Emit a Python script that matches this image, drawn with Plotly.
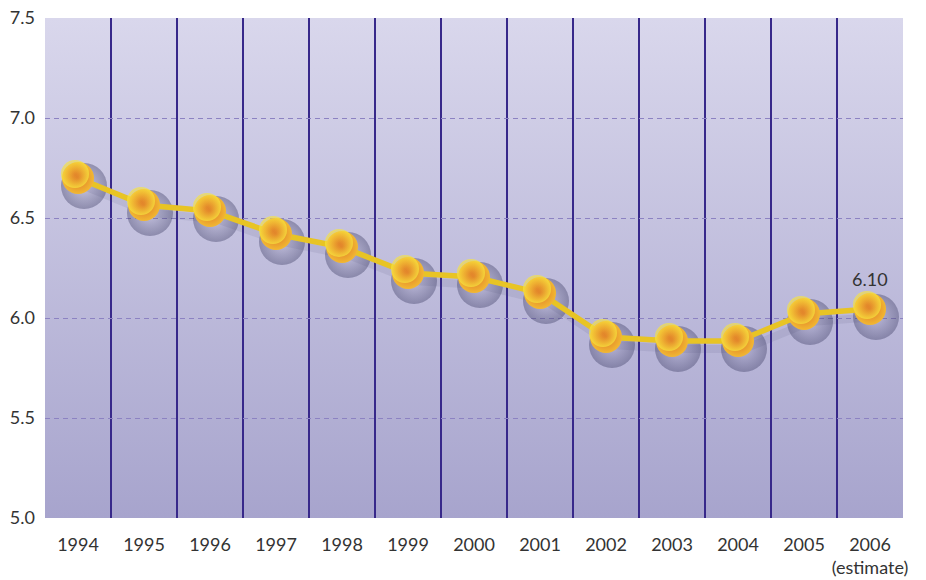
import base64
import plotly.graph_objects as go

years = ["1994", "1995", "1996", "1997", "1998", "1999", "2000",
         "2001", "2002", "2003", "2004", "2005", "2006"]
tick_labels = ["1994", "1995", "1996", "1997", "1998", "1999", "2000",
               "2001", "2002", "2003", "2004", "2005", "2006<br>(estimate)"]
values = [6.70, 6.565, 6.535, 6.42, 6.355, 6.225, 6.205,
          6.125, 5.905, 5.885, 5.885, 6.02, 6.045]
last_label = "6.10"
y_ticks = [5.0, 5.5, 6.0, 6.5, 7.0, 7.5]
y_grid = [5.5, 6.0, 6.5, 7.0]

idx = list(range(len(years)))
x_range = [-0.5, len(years) - 0.5]
y_range = [5.0, 7.5]

W, H = 926, 580
ML, MR, MT, MB = 45, 23, 18, 62
px_x = (x_range[1] - x_range[0]) / (W - ML - MR)
px_y = (y_range[1] - y_range[0]) / (H - MT - MB)

FONT = "Lato, 'Open Sans', sans-serif"

svg = ('<svg xmlns="http://www.w3.org/2000/svg" width="100" height="100" '
       'preserveAspectRatio="none"><defs><linearGradient id="g" x1="0" y1="0" '
       'x2="0" y2="1"><stop offset="0" stop-color="#d9d7ec"/>'
       '<stop offset="1" stop-color="#a7a4cd"/></linearGradient></defs>'
       '<rect width="100" height="100" fill="url(#g)"/></svg>')
bg_uri = "data:image/svg+xml;base64," + base64.b64encode(svg.encode()).decode()

fig = go.Figure()

# invisible base trace to anchor the primary axes
fig.add_trace(go.Scatter(x=idx, y=values, mode="none", hoverinfo="skip",
                         showlegend=False))

# soft shadow (offset axes)
fig.add_trace(go.Scatter(
    x=idx, y=values, mode="lines+markers", xaxis="x2", yaxis="y2",
    line=dict(color="rgba(70,70,110,0.10)", width=8),
    marker=dict(size=46, color="rgba(50,50,90,0.38)",
                gradient=dict(type="radial", color="rgba(50,50,90,0)"),
                line=dict(width=0)),
    hoverinfo="skip", showlegend=False))

# main line and spheres
fig.add_trace(go.Scatter(
    x=idx, y=values, mode="lines+markers", xaxis="x3", yaxis="y3",
    line=dict(color="#e8c424", width=5.5),
    marker=dict(size=32, color="#f2b832",
                gradient=dict(type="radial", color="#dd7428"),
                line=dict(width=0)),
    showlegend=False))

# soft highlight (offset axes)
fig.add_trace(go.Scatter(
    x=idx, y=values, mode="markers", xaxis="x4", yaxis="y4",
    marker=dict(size=28, color="rgba(247,230,62,0.7)",
                gradient=dict(type="radial", color="rgba(242,184,50,0)"),
                line=dict(width=0)),
    hoverinfo="skip", showlegend=False))

fig.add_annotation(x=idx[-1], y=values[-1], text=last_label, showarrow=False,
                   xref="x3", yref="y3",
                   yshift=30, font=dict(family=FONT, size=18, color="#333333"))

sh_dx, sh_dy = 6 * px_x, 8 * px_y
hl_dx, hl_dy = -3 * px_x, -4 * px_y

fig.update_layout(
    width=W, height=H,
    margin=dict(l=ML, r=MR, t=MT, b=MB, autoexpand=False),
    paper_bgcolor="white",
    plot_bgcolor="rgba(0,0,0,0)",
    font=dict(family=FONT, size=18, color="#333333"),
    images=[dict(source=bg_uri, xref="paper", yref="paper", x=0, y=1,
                 sizex=1, sizey=1, sizing="stretch", layer="below",
                 xanchor="left", yanchor="top")],
    xaxis=dict(range=x_range, tickvals=idx, ticktext=tick_labels,
               showgrid=False, zeroline=False, showline=False,
               ticks="", ticklabelstandoff=14, automargin=False,
               ticklabeloverflow="allow",
               minor=dict(tickvals=[i + 0.5 for i in idx[:-1]], showgrid=True,
                          gridcolor="#37288a", gridwidth=1.5, ticks="")),
    yaxis=dict(range=y_range, tickvals=y_ticks,
               ticktext=[f"{v:.1f}" for v in y_ticks],
               showgrid=False, zeroline=False, showline=False, ticks="",
               ticklabelstandoff=9, automargin=False,
               ticklabeloverflow="allow",
               minor=dict(tickvals=y_grid, showgrid=True, gridcolor="#8c82c2",
                          gridwidth=1, griddash="5px,4px", ticks="")),
    xaxis2=dict(range=[x_range[0] - sh_dx, x_range[1] - sh_dx], overlaying="x",
                visible=False),
    yaxis2=dict(range=[y_range[0] + sh_dy, y_range[1] + sh_dy], overlaying="y",
                visible=False),
    xaxis3=dict(range=x_range, overlaying="x", visible=False),
    yaxis3=dict(range=y_range, overlaying="y", visible=False),
    xaxis4=dict(range=[x_range[0] - hl_dx, x_range[1] - hl_dx], overlaying="x",
                visible=False),
    yaxis4=dict(range=[y_range[0] + hl_dy, y_range[1] + hl_dy], overlaying="y",
                visible=False),
)

fig.write_html("out.html",
               config={"displayModeBar": False, "staticPlot": True},
               post_script="document.body.style.margin='0';")
